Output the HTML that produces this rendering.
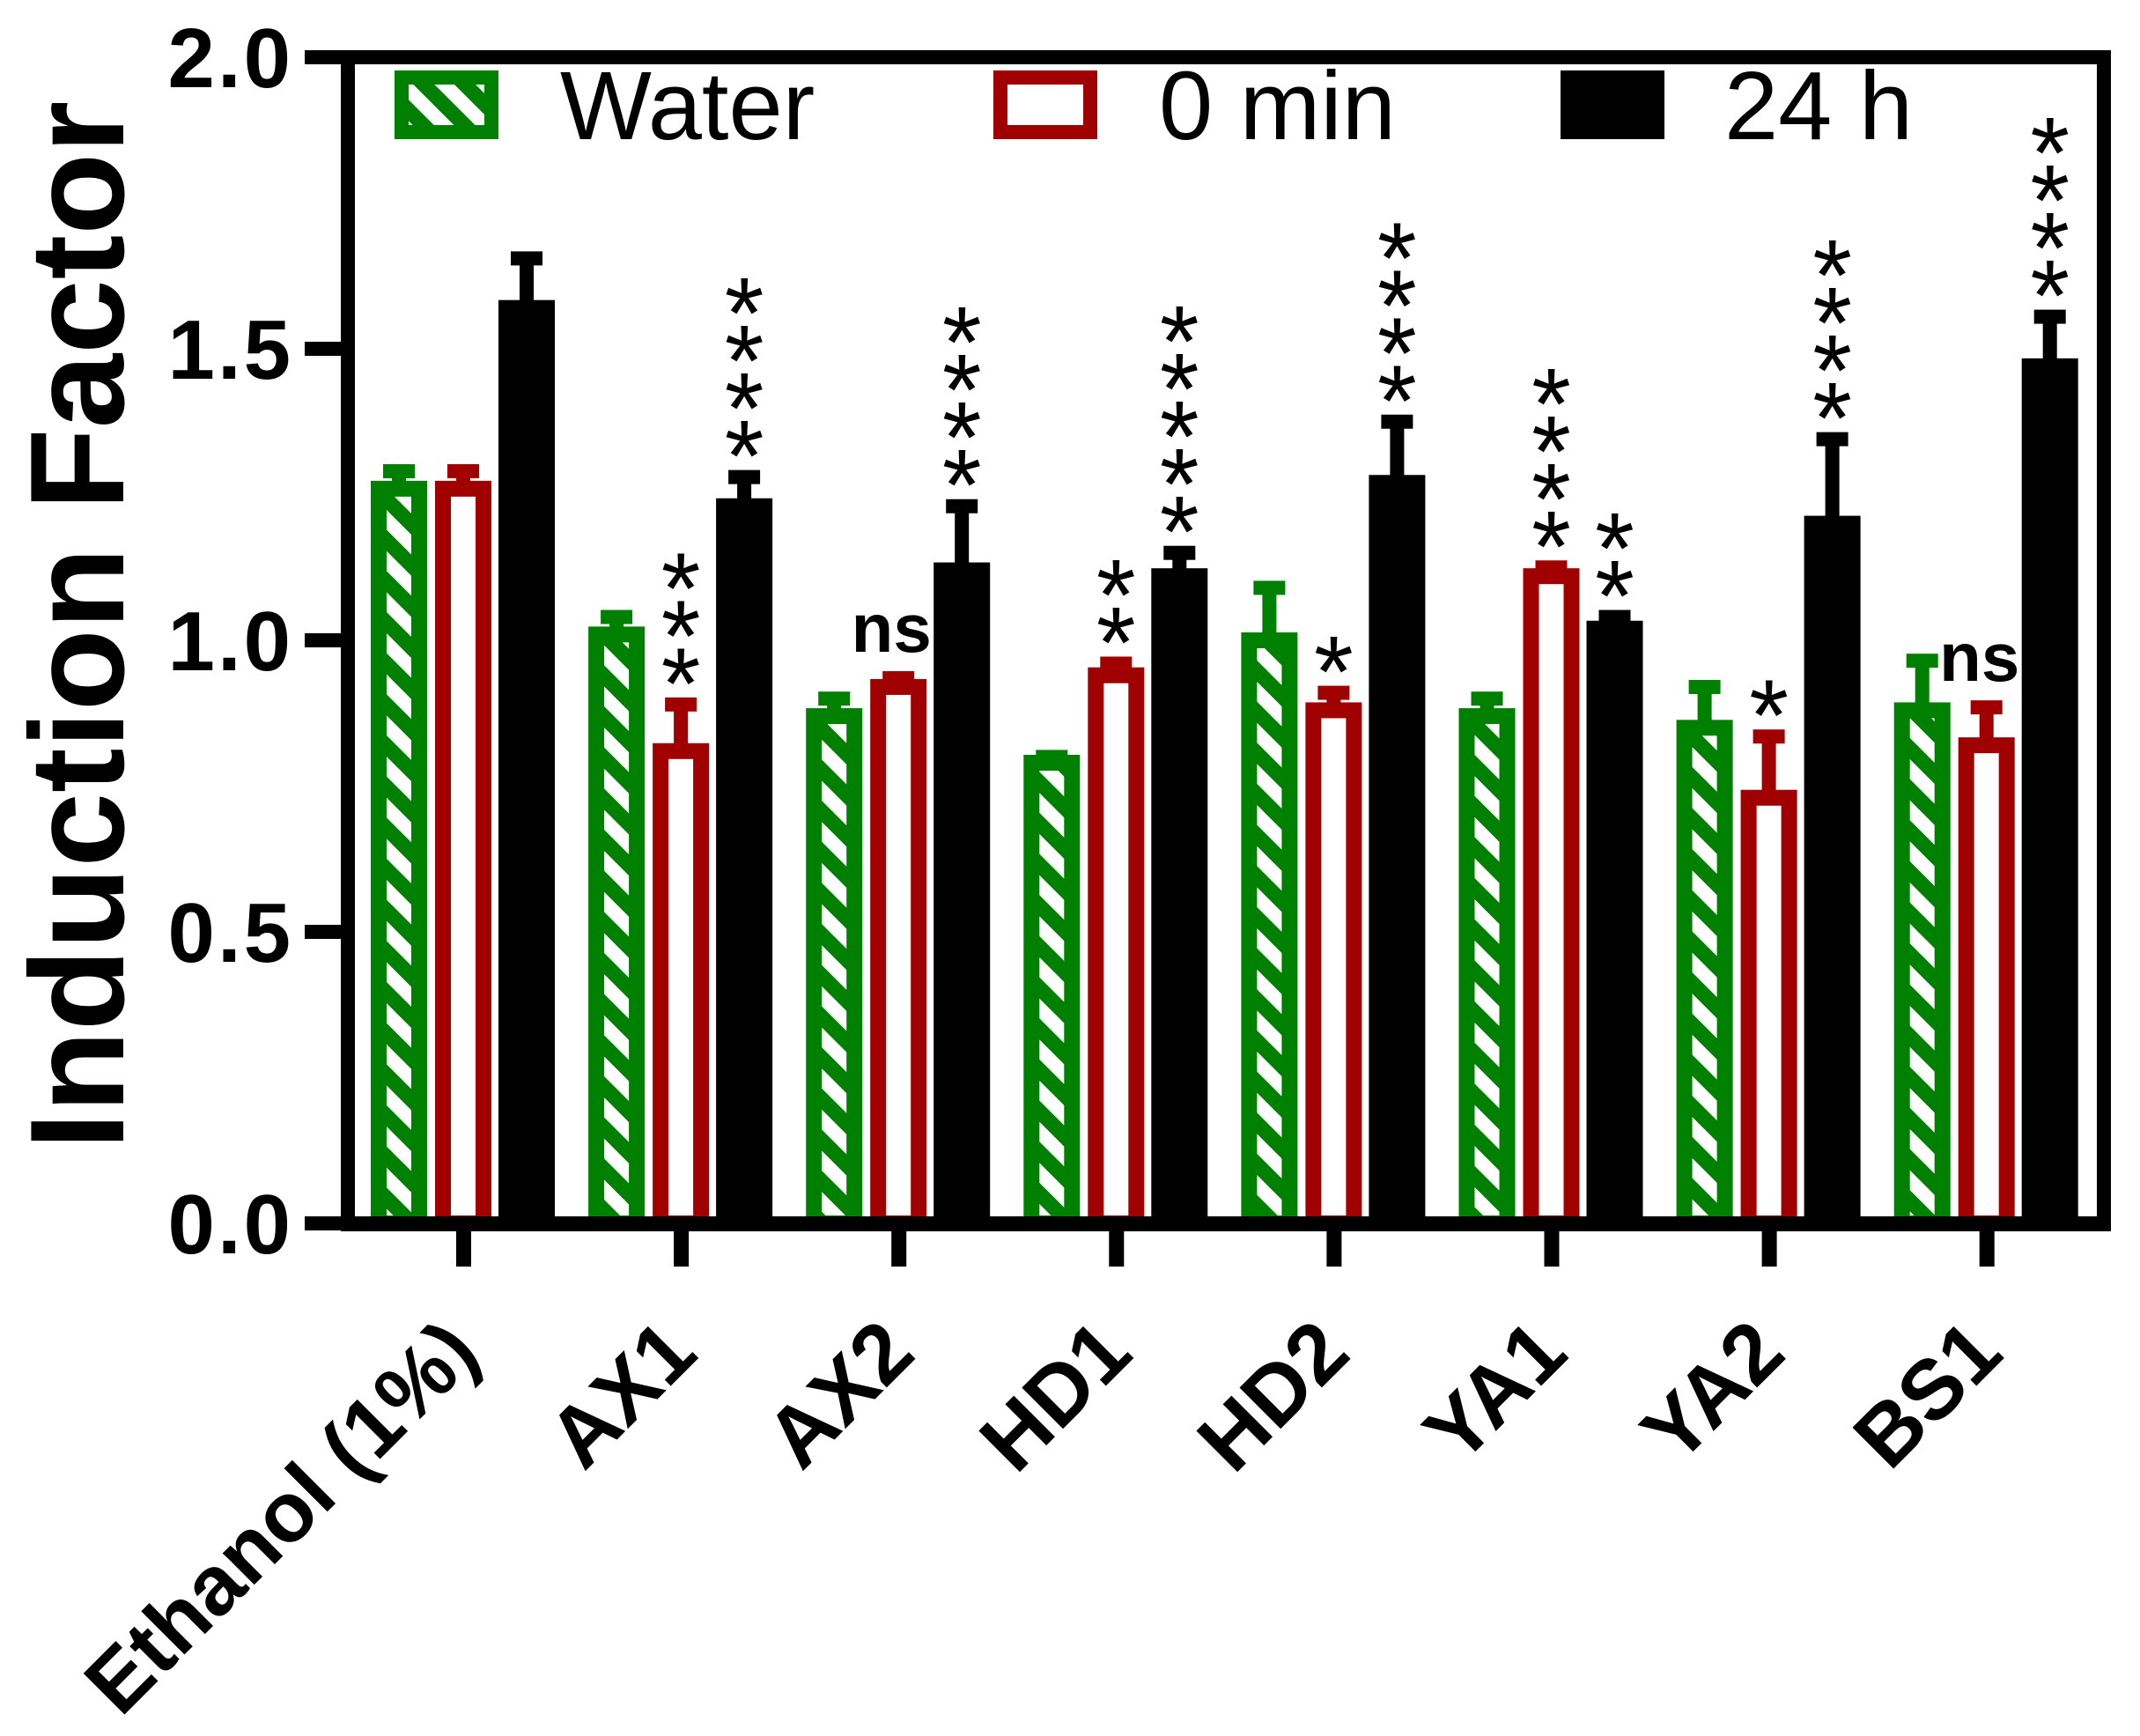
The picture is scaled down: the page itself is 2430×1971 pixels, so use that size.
<!DOCTYPE html>
<html><head><meta charset="utf-8"><style>
html,body{margin:0;padding:0;background:#fff;}
svg{display:block;font-family:"Liberation Sans",Arial,sans-serif;}
</style></head><body>
<svg id="chart" width="2430" height="1971" viewBox="0 0 2430 1971" xmlns="http://www.w3.org/2000/svg">
<defs>
<pattern id="hatch" patternUnits="userSpaceOnUse" width="33" height="33" patternTransform="rotate(-45)">
<rect x="0" y="0" width="33" height="33" fill="#fff"/>
<rect x="0" y="0" width="17" height="33" fill="#008000"/>
</pattern>
</defs>
<g id="plot"></g>
</svg>
<script>
const categories = ["Ethanol (1%)","AX1","AX2","HD1","HD2","YA1","YA2","BS1"];
const waterVals = [1.26,1.01,0.87,0.79,1.0,0.87,0.85,0.88];
const waterErr  = [0.03,0.03,0.03,0.01,0.09,0.03,0.07,0.085];
const zeroVals  = [1.26,0.81,0.92,0.94,0.88,1.11,0.73,0.82];
const zeroErr   = [0.03,0.08,0.015,0.02,0.03,0.015,0.105,0.065];
const dayVals   = [1.57,1.23,1.12,1.11,1.27,1.02,1.2,1.47];
const dayErr    = [0.085,0.05,0.11,0.04,0.105,0.02,0.145,0.085];
const zeroSig   = ["","***","ns","**","*","****","*","ns"];
const daySig    = ["","****","****","*****","****","**","****","****"];
const yTicks    = [0,0.5,1.0,1.5,2.0];
const yTickLabels = ["0.0","0.5","1.0","1.5","2.0"];

const NS = "http://www.w3.org/2000/svg";
const g = document.getElementById('plot');
const X0 = 395, Y0 = 1389, YTOP = 65, XR = 2389;
function yS(v){ return Y0 - v * (Y0 - YTOP) / 2.0; }
function xC(i){ return 526 + i * 247.1; }
function mk(tag, attrs, parent){ const e = document.createElementNS(NS, tag); for (const k in attrs) e.setAttribute(k, attrs[k]); (parent||g).appendChild(e); return e; }

const series = [
  {vals: waterVals, err: waterErr, off: -73, fill: "url(#hatch)", stroke: "#008000", name: "water"},
  {vals: zeroVals, err: zeroErr, off: 0, fill: "#fff", stroke: "#a00000", name: "0-min"},
  {vals: dayVals, err: dayErr, off: 72, fill: "#000", stroke: "#000", name: "24-h"}
];
series.forEach(s => {
  s.vals.forEach((v, i) => {
    const cx = xC(i) + s.off;
    const top = yS(v);
    const eTop = yS(v + s.err[i]);
    const eb = mk('rect', {x: cx - 8, y: eTop, width: 16, height: top - eTop + 5, fill: s.stroke});
    
    
    const cap = mk('rect', {x: cx - 18, y: eTop - 8, width: 36, height: 16, fill: s.stroke});
    
    
    const r = mk('rect', {x: cx - 23, y: top, width: 46, height: Y0 - top, fill: s.fill, stroke: s.stroke, 'stroke-width': 18});
    
    
  });
});

function sig(label, cx, v, idx, nm){
  if (!label) return;
  if (label === "ns") {
    const t = mk('text', {x: cx - 8, y: yS(v) - 30, 'font-size': 78, 'font-weight': 'bold', 'text-anchor': 'middle'});
    t.textContent = "ns";
    
    
    return;
  }
  const n = label.length;
  for (let k = 0; k < n; k++) {
    const cy = yS(v) - 52 - k * 54;
    const t = mk('text', {x: cx, y: cy + 68, 'font-size': 115, 'text-anchor': 'middle'});
    t.textContent = "*";
    
    
  }
}
zeroSig.forEach((l, i) => sig(l, xC(i), zeroVals[i] + zeroErr[i], i, 'zero'));
daySig.forEach((l, i) => sig(l, xC(i) + 72, dayVals[i] + dayErr[i], i, 'day'));

let e;
e = mk('rect', {x: X0 - 8, y: YTOP - 8, width: 16, height: Y0 - YTOP + 16, fill: '#000'});
 
e = mk('rect', {x: X0 - 8, y: Y0 - 8, width: XR - X0 + 16, height: 17, fill: '#000'});
 
e = mk('rect', {x: X0 - 8, y: YTOP - 8, width: XR - X0 + 16, height: 16, fill: '#000'});
 
e = mk('rect', {x: XR - 8, y: YTOP - 8, width: 16, height: Y0 - YTOP + 16, fill: '#000'});
 

yTicks.forEach((v, i) => {
  const tk = mk('rect', {x: 346, y: yS(v) - 8, width: 50, height: 16, fill: '#000'});
  
  
  const t = mk('text', {x: 333, y: yS(v) + 34, 'font-size': 96, 'font-weight': 'bold', 'text-anchor': 'end', 'letter-spacing': 3});
  t.textContent = yTickLabels[i];
  
  
});
categories.forEach((c, i) => {
  const tk = mk('rect', {x: xC(i) - 8, y: Y0, width: 17, height: 49, fill: '#000'});
  
  
  const bx = xC(i) + 22, by = 1540;
  const t = mk('text', {x: bx, y: by, 'font-size': 96, 'font-weight': 'bold', 'text-anchor': 'end', transform: 'rotate(-45 ' + bx + ' ' + by + ')'});
  t.textContent = c;
  
  
});
e = mk('text', {x: 0, y: 0, 'font-size': 152, 'font-weight': 'bold', 'text-anchor': 'middle', transform: 'translate(140 710) rotate(-90)'});
e.textContent = "Induction Factor";
 

const leg = [
  {x: 448, fill: 'url(#hatch)', stroke: '#008000', label: 'Water', tx: 636, nm: 'water'},
  {x: 1128, fill: '#fff', stroke: '#a00000', label: '0 min', tx: 1316, nm: '0-min'},
  {x: 1772, fill: '#000', stroke: '#000', label: '24 h', tx: 1958, nm: '24-h'}
];
leg.forEach(L => {
  const r = mk('rect', {x: L.x + 8, y: 88, width: 102, height: 62, fill: L.fill, stroke: L.stroke, 'stroke-width': 16});
  
  
  const t = mk('text', {x: L.tx, y: 158, 'font-size': 110});
  t.textContent = L.label;
  
  
});
</script>
</body></html>
